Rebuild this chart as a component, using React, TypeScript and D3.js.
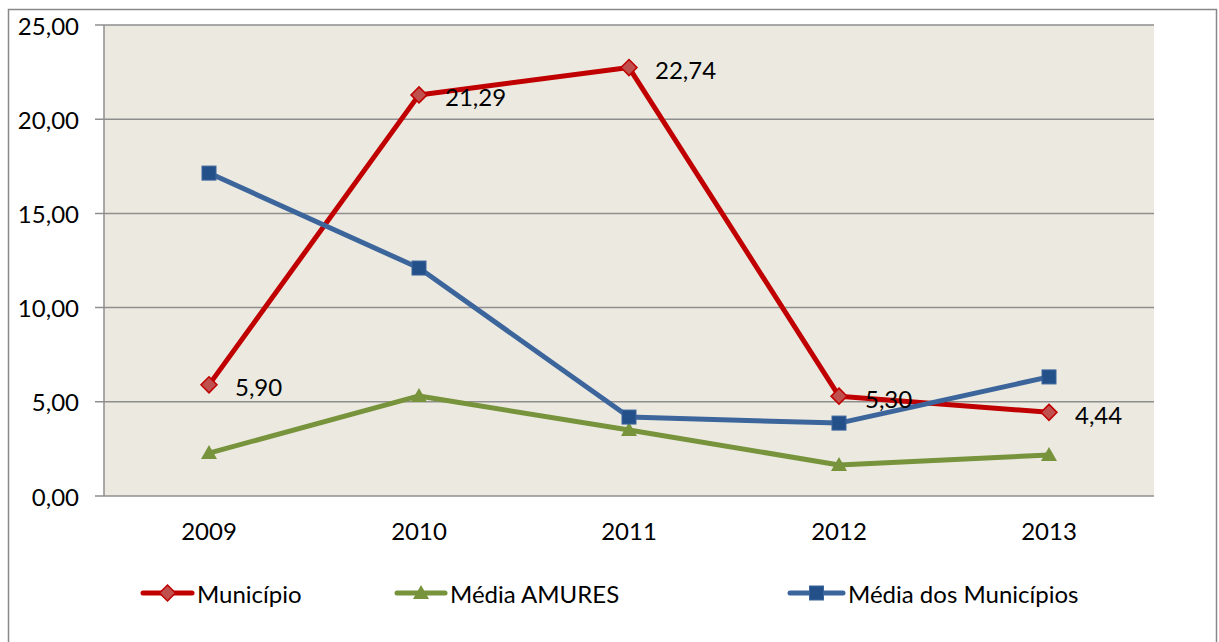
import React from "react";
import * as d3 from "d3";

const years = ["2009", "2010", "2011", "2012", "2013"];
const municipio = [5.9, 21.29, 22.74, 5.3, 4.44];
const mediaAmures = [2.28, 5.31, 3.5, 1.65, 2.18];
const mediaMunicipios = [17.14, 12.1, 4.19, 3.87, 6.32];
const yTicks = [0, 5, 10, 15, 20, 25];

const FONT = "Lato, 'Open Sans', sans-serif";
const FS = 24;
const fmt = (v: number) => v.toFixed(2).replace(".", ",");

export default function App() {
  const W = 1219, H = 642;
  const left = 104, right = 1154, top = 25, bottom = 496;
  const x = d3.scaleBand<string>().domain(years).range([left, right]);
  const y = d3.scaleLinear().domain([0, 25]).range([bottom, top]);
  const cx = (i: number) => (x(years[i]) as number) + x.bandwidth() / 2;
  const line = d3.line<number>().x((_, i) => cx(i)).y((d) => y(d));

  const red = "#C00000", redFill = "#C0504D";
  const green = "#77933C";
  const blue = "#3C659C", blueFill = "#24508A";

  const diamond = (px: number, py: number, k: string | number) => (
    <path key={k} d={`M${px},${py - 8}L${px + 8},${py}L${px},${py + 8}L${px - 8},${py}Z`} fill={redFill} stroke={red} strokeWidth={1.5} />
  );
  const tri = (px: number, py: number, k: string | number) => (
    <path key={k} d={`M${px},${py - 8}L${px + 8},${py + 6}L${px - 8},${py + 6}Z`} fill={green} />
  );
  const sq = (px: number, py: number, k: string | number) => (
    <rect key={k} x={px - 7} y={py - 7} width={14} height={14} fill={blueFill} stroke={blue} strokeWidth={1} />
  );

  const legend = [
    { name: "Município", x0: 143, x1: 192, tx: 197, color: red, m: diamond },
    { name: "Média AMURES", x0: 397, x1: 445, tx: 450, color: green, m: tri },
    { name: "Média dos Municípios", x0: 790, x1: 843, tx: 848, color: blue, m: sq },
  ];

  return (
    <svg width={W} height={H} style={{ position: "absolute", left: 0, top: 0 }} fontFamily={FONT}>
      <rect x={0} y={0} width={W} height={H} fill="#fff" />
      <path d={`M8.5,${H}V9.5H1216.5V${H}`} fill="none" stroke="#888" strokeWidth={1.5} />
      <rect x={left} y={top} width={right - left} height={bottom - top} fill="#ECEAE0" />
      {yTicks.map((t) => (
        <g key={t}>
          <line x1={95} x2={right} y1={y(t)} y2={y(t)} stroke="#8E8E8E" strokeWidth={1.5} />
          <text x={79} y={y(t)} textAnchor="end" dominantBaseline="central" fontSize={FS} fill="#000">{fmt(t)}</text>
        </g>
      ))}
      <line x1={left} x2={left} y1={top} y2={bottom} stroke="#8E8E8E" strokeWidth={1.5} />
      {years.map((yr, i) => (
        <text key={yr} x={cx(i)} y={530} textAnchor="middle" dominantBaseline="central" fontSize={FS} fill="#000">{yr}</text>
      ))}
      <path d={line(mediaAmures) || ""} fill="none" stroke={green} strokeWidth={5} strokeLinejoin="round" />
      {mediaAmures.map((v, i) => tri(cx(i), y(v), "a" + i))}
      <path d={line(municipio) || ""} fill="none" stroke={red} strokeWidth={5} strokeLinejoin="round" />
      {municipio.map((v, i) => diamond(cx(i), y(v), "m" + i))}
      <path d={line(mediaMunicipios) || ""} fill="none" stroke={blue} strokeWidth={5} strokeLinejoin="round" />
      {mediaMunicipios.map((v, i) => sq(cx(i), y(v), "b" + i))}
      {municipio.map((v, i) => (
        <text key={"l" + i} x={cx(i) + 26} y={y(v) + 2} dominantBaseline="central" fontSize={FS} fill="#000">{fmt(v)}</text>
      ))}
      {legend.map((l, i) => (
        <g key={l.name}>
          <line x1={l.x0} x2={l.x1} y1={593} y2={593} stroke={l.color} strokeWidth={5} strokeLinecap="round" />
          {l.m((l.x0 + l.x1) / 2, 593, "lg" + i)}
          <text x={l.tx} y={593} dominantBaseline="central" fontSize={FS} fill="#000">{l.name}</text>
        </g>
      ))}
    </svg>
  );
}
